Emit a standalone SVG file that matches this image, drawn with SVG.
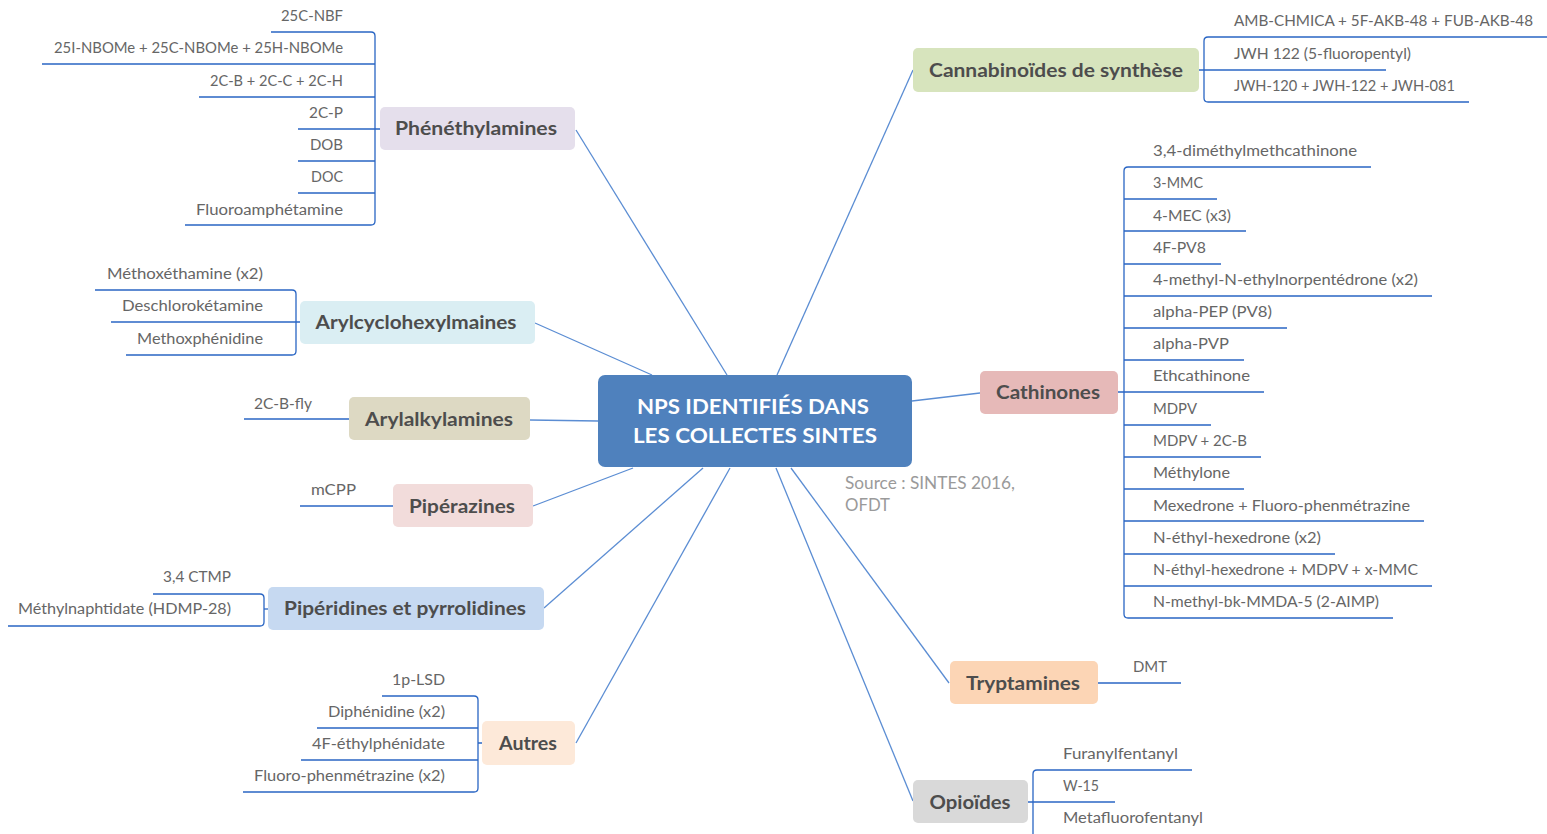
<svg xmlns="http://www.w3.org/2000/svg" width="1547" height="834" viewBox="0 0 1547 834">
<style>
.bg{fill:#ffffff}
.conn{stroke:#5b8dd3;stroke-width:1.3;fill:none}
.br{stroke:#2a66c4;stroke-width:1.3;fill:none}
.leaf{font-family:Lato,"Open Sans","Liberation Sans",sans-serif;font-size:15.5px;fill:#666666}
.nt{font-family:Lato,"Open Sans","Liberation Sans",sans-serif;font-size:19.5px;font-weight:bold;fill:#4d4d4d;text-anchor:middle}
.ct{font-family:Lato,"Open Sans","Liberation Sans",sans-serif;font-size:21.5px;font-weight:bold;fill:#ffffff;text-anchor:middle}
.src{font-family:Lato,"Open Sans","Liberation Sans",sans-serif;font-size:17px;fill:#9a9a9a}
.r{text-anchor:end}
</style>
<rect class="bg" x="0" y="0" width="1547" height="834"/>
<g id="connectors">
<line class="conn" x1="576" y1="130" x2="727" y2="375"/>
<line class="conn" x1="535" y1="323" x2="652" y2="375"/>
<line class="conn" x1="530" y1="420" x2="598" y2="421"/>
<line class="conn" x1="533" y1="506" x2="633" y2="468"/>
<line class="conn" x1="544" y1="608" x2="703" y2="468"/>
<line class="conn" x1="576" y1="743" x2="730" y2="468"/>
<line class="conn" x1="913" y1="70" x2="777" y2="375"/>
<line class="conn" x1="912" y1="401" x2="980" y2="393"/>
<line class="conn" x1="949" y1="683" x2="791" y2="468"/>
<line class="conn" x1="913" y1="801" x2="776" y2="468"/>
</g>
<g id="center">
<rect x="598" y="375" width="314" height="92" rx="7" fill="#4f81bd"/>
<text class="ct" x="753" y="414" textLength="232" lengthAdjust="spacingAndGlyphs">NPS IDENTIFIÉS DANS</text>
<text class="ct" x="755" y="443" textLength="244" lengthAdjust="spacingAndGlyphs">LES COLLECTES SINTES</text>
</g>
<g id="source">
<text class="src" x="845" y="489" textLength="170" lengthAdjust="spacingAndGlyphs">Source : SINTES 2016,</text>
<text class="src" x="845" y="511" textLength="45" lengthAdjust="spacingAndGlyphs">OFDT</text>
</g>
<g id="phenethylamines">
<rect x="380" y="107" width="195" height="43" rx="5" fill="#e5dfec"/>
<text class="nt" x="476" y="135" textLength="162" lengthAdjust="spacingAndGlyphs">Phénéthylamines</text>
<path class="br" d="M271 32 H371 Q375 32 375 36 V221 Q375 225 371 225 H185"/>
<path class="br" d="M42 64 H375 M199 97 H375 M298 129 H380 M298 161 H375 M298 193 H375"/>
<text class="leaf r" x="343" y="21" textLength="62" lengthAdjust="spacingAndGlyphs">25C-NBF</text>
<text class="leaf r" x="343" y="53" textLength="289" lengthAdjust="spacingAndGlyphs">25I-NBOMe + 25C-NBOMe + 25H-NBOMe</text>
<text class="leaf r" x="343" y="86" textLength="133" lengthAdjust="spacingAndGlyphs">2C-B + 2C-C + 2C-H</text>
<text class="leaf r" x="343" y="118" textLength="34" lengthAdjust="spacingAndGlyphs">2C-P</text>
<text class="leaf r" x="343" y="150" textLength="33" lengthAdjust="spacingAndGlyphs">DOB</text>
<text class="leaf r" x="343" y="182" textLength="32" lengthAdjust="spacingAndGlyphs">DOC</text>
<text class="leaf r" x="343" y="215" textLength="147" lengthAdjust="spacingAndGlyphs">Fluoroamphétamine</text>
</g>
<g id="arylcyclohexylmaines">
<rect x="300" y="301" width="235" height="43" rx="5" fill="#daeef3"/>
<text class="nt" x="416" y="329" textLength="201" lengthAdjust="spacingAndGlyphs">Arylcyclohexylmaines</text>
<path class="br" d="M95 290 H292 Q296 290 296 294 V351 Q296 355 292 355 H126"/>
<path class="br" d="M111 322 H300"/>
<text class="leaf r" x="263" y="279" textLength="156" lengthAdjust="spacingAndGlyphs">Méthoxéthamine (x2)</text>
<text class="leaf r" x="263" y="311" textLength="141" lengthAdjust="spacingAndGlyphs">Deschlorokétamine</text>
<text class="leaf r" x="263" y="344" textLength="126" lengthAdjust="spacingAndGlyphs">Methoxphénidine</text>
</g>
<g id="arylalkylamines">
<rect x="349" y="397" width="181" height="43" rx="5" fill="#ddd9c3"/>
<text class="nt" x="439" y="426" textLength="148" lengthAdjust="spacingAndGlyphs">Arylalkylamines</text>
<path class="br" d="M244 419 H349"/>
<text class="leaf" x="254" y="409" textLength="58" lengthAdjust="spacingAndGlyphs">2C-B-fly</text>
</g>
<g id="piperazines">
<rect x="393" y="484" width="140" height="43" rx="5" fill="#f2dcdb"/>
<text class="nt" x="462" y="513" textLength="106" lengthAdjust="spacingAndGlyphs">Pipérazines</text>
<path class="br" d="M300 506 H393"/>
<text class="leaf" x="311" y="495" textLength="45" lengthAdjust="spacingAndGlyphs">mCPP</text>
</g>
<g id="piperidines">
<rect x="268" y="587" width="276" height="43" rx="5" fill="#c6d9f1"/>
<text class="nt" x="405" y="615" textLength="242" lengthAdjust="spacingAndGlyphs">Pipéridines et pyrrolidines</text>
<path class="br" d="M153 594 H260 Q264 594 264 598 V622 Q264 626 260 626 H8"/>
<path class="br" d="M264 609 H268"/>
<text class="leaf r" x="231" y="582" textLength="68" lengthAdjust="spacingAndGlyphs">3,4 CTMP</text>
<text class="leaf r" x="231" y="614" textLength="213" lengthAdjust="spacingAndGlyphs">Méthylnaphtidate (HDMP-28)</text>
</g>
<g id="autres">
<rect x="482" y="721" width="93" height="44" rx="5" fill="#fde9d9"/>
<text class="nt" x="528" y="750" textLength="58" lengthAdjust="spacingAndGlyphs">Autres</text>
<path class="br" d="M382 696 H474 Q478 696 478 700 V788 Q478 792 474 792 H243"/>
<path class="br" d="M317 728 H478 M301 760 H478 M478 743 H482"/>
<text class="leaf r" x="445" y="685" textLength="53" lengthAdjust="spacingAndGlyphs">1p-LSD</text>
<text class="leaf r" x="445" y="717" textLength="117" lengthAdjust="spacingAndGlyphs">Diphénidine (x2)</text>
<text class="leaf r" x="445" y="749" textLength="133" lengthAdjust="spacingAndGlyphs">4F-éthylphénidate</text>
<text class="leaf r" x="445" y="781" textLength="191" lengthAdjust="spacingAndGlyphs">Fluoro-phenmétrazine (x2)</text>
</g>
<g id="cannabinoides">
<rect x="913" y="48" width="286" height="44" rx="5" fill="#d7e4bd"/>
<text class="nt" x="1056" y="77" textLength="254" lengthAdjust="spacingAndGlyphs">Cannabinoïdes de synthèse</text>
<path class="br" d="M1547 37 H1208 Q1204 37 1204 41 V98 Q1204 102 1208 102 H1469"/>
<path class="br" d="M1199 70 H1386"/>
<text class="leaf" x="1234" y="26" textLength="299" lengthAdjust="spacingAndGlyphs">AMB-CHMICA + 5F-AKB-48 + FUB-AKB-48</text>
<text class="leaf" x="1234" y="59" textLength="177" lengthAdjust="spacingAndGlyphs">JWH 122 (5-fluoropentyl)</text>
<text class="leaf" x="1234" y="91" textLength="221" lengthAdjust="spacingAndGlyphs">JWH-120 + JWH-122 + JWH-081</text>
</g>
<g id="cathinones">
<rect x="980" y="371" width="138" height="43" rx="5" fill="#e6b9b8"/>
<text class="nt" x="1048" y="399" textLength="104" lengthAdjust="spacingAndGlyphs">Cathinones</text>
<path class="br" d="M1371 167 H1128 Q1124 167 1124 171 V614 Q1124 618 1128 618 H1393"/>
<path class="br" d="M1124 199 H1217 M1124 231 H1246 M1124 264 H1221 M1124 296 H1432 M1124 328 H1287 M1124 360 H1244 M1118 392 H1264 M1124 425 H1211 M1124 457 H1261 M1124 489 H1244 M1124 521 H1424 M1124 554 H1335 M1124 586 H1432"/>
<text class="leaf" x="1153" y="156" textLength="204" lengthAdjust="spacingAndGlyphs">3,4-diméthylmethcathinone</text>
<text class="leaf" x="1153" y="188" textLength="50" lengthAdjust="spacingAndGlyphs">3-MMC</text>
<text class="leaf" x="1153" y="221" textLength="78" lengthAdjust="spacingAndGlyphs">4-MEC (x3)</text>
<text class="leaf" x="1153" y="253" textLength="53" lengthAdjust="spacingAndGlyphs">4F-PV8</text>
<text class="leaf" x="1153" y="285" textLength="265" lengthAdjust="spacingAndGlyphs">4-methyl-N-ethylnorpentédrone (x2)</text>
<text class="leaf" x="1153" y="317" textLength="119" lengthAdjust="spacingAndGlyphs">alpha-PEP (PV8)</text>
<text class="leaf" x="1153" y="349" textLength="76" lengthAdjust="spacingAndGlyphs">alpha-PVP</text>
<text class="leaf" x="1153" y="381" textLength="97" lengthAdjust="spacingAndGlyphs">Ethcathinone</text>
<text class="leaf" x="1153" y="414" textLength="44" lengthAdjust="spacingAndGlyphs">MDPV</text>
<text class="leaf" x="1153" y="446" textLength="94" lengthAdjust="spacingAndGlyphs">MDPV + 2C-B</text>
<text class="leaf" x="1153" y="478" textLength="77" lengthAdjust="spacingAndGlyphs">Méthylone</text>
<text class="leaf" x="1153" y="511" textLength="257" lengthAdjust="spacingAndGlyphs">Mexedrone + Fluoro-phenmétrazine</text>
<text class="leaf" x="1153" y="543" textLength="168" lengthAdjust="spacingAndGlyphs">N-éthyl-hexedrone (x2)</text>
<text class="leaf" x="1153" y="575" textLength="265" lengthAdjust="spacingAndGlyphs">N-éthyl-hexedrone + MDPV + x-MMC</text>
<text class="leaf" x="1153" y="607" textLength="226" lengthAdjust="spacingAndGlyphs">N-methyl-bk-MMDA-5 (2-AIMP)</text>
</g>
<g id="tryptamines">
<rect x="950" y="661" width="148" height="43" rx="5" fill="#fcd5b5"/>
<text class="nt" x="1023" y="690" textLength="114" lengthAdjust="spacingAndGlyphs">Tryptamines</text>
<path class="br" d="M1098 683 H1181"/>
<text class="leaf" x="1133" y="672" textLength="34" lengthAdjust="spacingAndGlyphs">DMT</text>
</g>
<g id="opioides">
<rect x="913" y="780" width="115" height="43" rx="5" fill="#d9d9d9"/>
<text class="nt" x="970" y="809" textLength="81" lengthAdjust="spacingAndGlyphs">Opioïdes</text>
<path class="br" d="M1192 770 H1037 Q1033 770 1033 774 V840"/>
<path class="br" d="M1028 802 H1115"/>
<text class="leaf" x="1063" y="759" textLength="115" lengthAdjust="spacingAndGlyphs">Furanylfentanyl</text>
<text class="leaf" x="1063" y="791" textLength="36" lengthAdjust="spacingAndGlyphs">W-15</text>
<text class="leaf" x="1063" y="823" textLength="140" lengthAdjust="spacingAndGlyphs">Metafluorofentanyl</text>
</g>
</svg>
